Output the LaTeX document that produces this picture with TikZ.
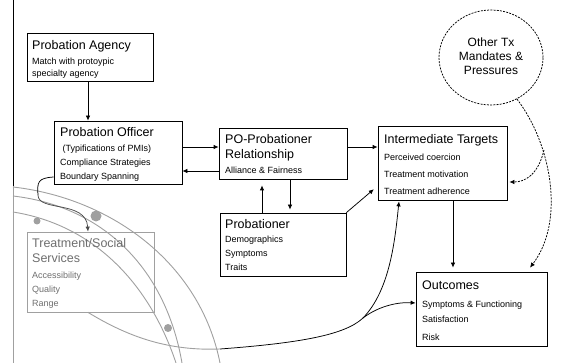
\documentclass[tikz,border=0pt]{standalone}
\usepackage{fontspec}
\setmainfont{Liberation Sans}
\usetikzlibrary{arrows.meta,shapes.geometric}
\definecolor{deco}{HTML}{A0A0A0}
\definecolor{fadetxt}{HTML}{6E6E6E}
\begin{document}
\begin{tikzpicture}[x=1pt,y=-1pt,
  box/.style={draw,line width=0.75pt,inner sep=0pt},
  ttl/.style={anchor=base west,inner sep=0pt,font=\fontsize{12.5}{14}\selectfont},
  sub/.style={anchor=base west,inner sep=0pt,font=\fontsize{9}{11}\selectfont},
  ctr/.style={anchor=base,inner sep=0pt,font=\fontsize{12}{14}\selectfont},
  arr/.style={line width=0.75pt,-{Latex[length=5pt,width=4.5pt]}},
  darr/.style={arr,dash pattern=on 2pt off 1.2pt},
  decoline/.style={draw=deco,line width=0.9pt},
  decodot/.style={fill=deco}
]
\useasboundingbox (0,0) rectangle (565,363);
% left vertical rule
\draw[line width=0.8pt] (13,0) -- (13,186);
\draw[decoline] (13,186) -- (13,363);
% decorative arcs
\draw[decoline] (13,187) .. controls (110,198) and (200,262) .. (220,363);
\draw[decoline] (13,196) .. controls (100,206) and (165,265) .. (182,363);
\draw[decoline] (13,212) .. controls (95,225) and (150,285) .. (176,363);
\fill[decodot] (96,216) circle (5.5);
\fill[decodot] (37,221) circle (3.5);
\fill[decodot] (168,328) circle (4);

% boxes
\node[box,minimum width=126pt,minimum height=48pt] (pa) at (90,57) {};
\node[box,minimum width=128pt,minimum height=63pt] (po) at (118,152.5) {};
\node[box,minimum width=128pt,minimum height=51pt] (rel) at (283,153.5) {};
\node[box,minimum width=129pt,minimum height=74pt] (it) at (442.5,163) {};
\node[box,minimum width=126pt,minimum height=63pt] (pr) at (283,244.5) {};
\node[box,draw=deco,minimum width=127pt,minimum height=80pt] (ts) at (90.5,272) {};
\node[box,minimum width=131pt,minimum height=74pt] (oc) at (481.5,309) {};
\node[draw,ellipse,dash pattern=on 2pt off 1.2pt,line width=0.75pt,minimum width=104pt,minimum height=95pt,inner sep=0pt] (ot) at (491,57.5) {};

% texts
\node[ttl] (pa1) at (32,49.5) {Probation Agency};
\node[sub] (pa2) at (32,65) {Match with protoypic};
\node[sub] (pa3) at (32,76.5) {specialty agency};

\node[ttl] (po1) at (60,136.5) {Probation Officer};
\node[sub] (po2) at (61,151.5) {\,(Typifications of PMIs)};
\node[sub] (po3) at (60,165.5) {Compliance Strategies};
\node[sub] (po4) at (60,179.5) {Boundary Spanning};

\node[ttl] (re1) at (225,143.5) {PO-Probationer};
\node[ttl] (re2) at (225,158.5) {Relationship};
\node[sub] (re3) at (225,173.5) {Alliance \& Fairness};

\node[ttl] (it1) at (384,143.5) {Intermediate Targets};
\node[sub] (it2) at (384,160.5) {Perceived coercion};
\node[sub] (it3) at (384,177.5) {Treatment motivation};
\node[sub] (it4) at (384,195) {Treatment adherence};

\node[ttl] (pr1) at (225,228.5) {Probationer};
\node[sub] (pr2) at (225,242.5) {Demographics};
\node[sub] (pr3) at (225,257) {Symptoms};
\node[sub] (pr4) at (225,270.5) {Traits};

\node[ttl,text=fadetxt] (ts1) at (32,247.5) {Treatment/Social};
\node[ttl,text=fadetxt] (ts2) at (32,262.5) {Services};
\node[sub,text=fadetxt] (ts3) at (32,278.5) {Accessibility};
\node[sub,text=fadetxt] (ts4) at (32,292.5) {Quality};
\node[sub,text=fadetxt] (ts5) at (32,306.5) {Range};

\node[ttl] (oc1) at (422,289.5) {Outcomes};
\node[sub] (oc2) at (422,307.5) {Symptoms \& Functioning};
\node[sub] (oc3) at (422,322.5) {Satisfaction};
\node[sub] (oc4) at (422,340.5) {Risk};

\node[ctr] (ot1) at (491,46.5) {Other Tx};
\node[ctr] (ot2) at (491,61) {Mandates \&};
\node[ctr] (ot3) at (491,75) {Pressures};

% connectors
\draw[arr] ([xshift=-2pt]pa.south) -- ([xshift=-2pt]pa.south |- po.north);
\coordinate (poR) at ([yshift=5.5pt]po.east);
\coordinate (poL) at ([yshift=-18.5pt]po.east);
\draw[arr] (poR) -- (poR -| rel.west);
\draw[arr] (poL -| rel.west) -- (poL);
\coordinate (relR) at ([yshift=6.5pt]rel.east);
\draw[arr] (relR) -- (relR -| it.west);
\coordinate (prU) at ([xshift=-21pt]pr.north);
\coordinate (prD) at ([xshift=7pt]pr.north);
\draw[arr,shorten >=6pt] (prU) -- (prU |- rel.south);
\draw[arr,shorten >=3pt] (prD |- rel.south) -- (prD);
\coordinate (itL) at ([yshift=-23pt]it.west);
\draw[arr,shorten >=5pt] (pr.north east) -- (itL);
\coordinate (itB) at ([xshift=10.5pt]it.south);
\draw[arr,shorten >=4pt] (itB) -- (itB |- oc.north);
% dashed
\coordinate (dsplit) at (544,150);
\coordinate (itR) at ([yshift=-19pt]it.east);
\coordinate (ocT) at ([xshift=48.5pt,yshift=4pt]oc.north);
\draw[darr] (ot.-58) .. controls (552,145) and (565,222) .. (ocT);
\draw[darr] (dsplit) .. controls (538,175) and (525,182) .. ([xshift=2pt]itR);
% Boundary spanning -> treatment
\coordinate (poBS) at ([yshift=-24.5pt]po.west);
\coordinate (tsT) at ([xshift=-2.5pt]ts.north);
\draw[line width=0.75pt] (poBS) .. controls (38,178) and (37,182) .. (38,195);
\draw[arr,draw=black!70] (38,195) .. controls (38,212) and (86,200) .. (tsT);
% treatment -> outcomes / intermediate
\coordinate (tsB) at ([xshift=-2.5pt]ts.south);
\coordinate (mid) at (220,349);
\coordinate (split) at (363,318);
\coordinate (itB2) at ([xshift=-43.5pt,yshift=-1pt]it.south);
\coordinate (ocL) at ([yshift=6pt]oc.west);
\draw[decoline] (tsB) .. controls (130,338) and (170,351) .. (mid);
\draw[line width=0.75pt] (mid) .. controls (300,343) and (345,335) .. (split);
\draw[arr] (split) .. controls (390,290) and (395,240) .. (itB2);
\draw[arr] (split) .. controls (380,305) and (400,302) .. (ocL);
\end{tikzpicture}
\end{document}
